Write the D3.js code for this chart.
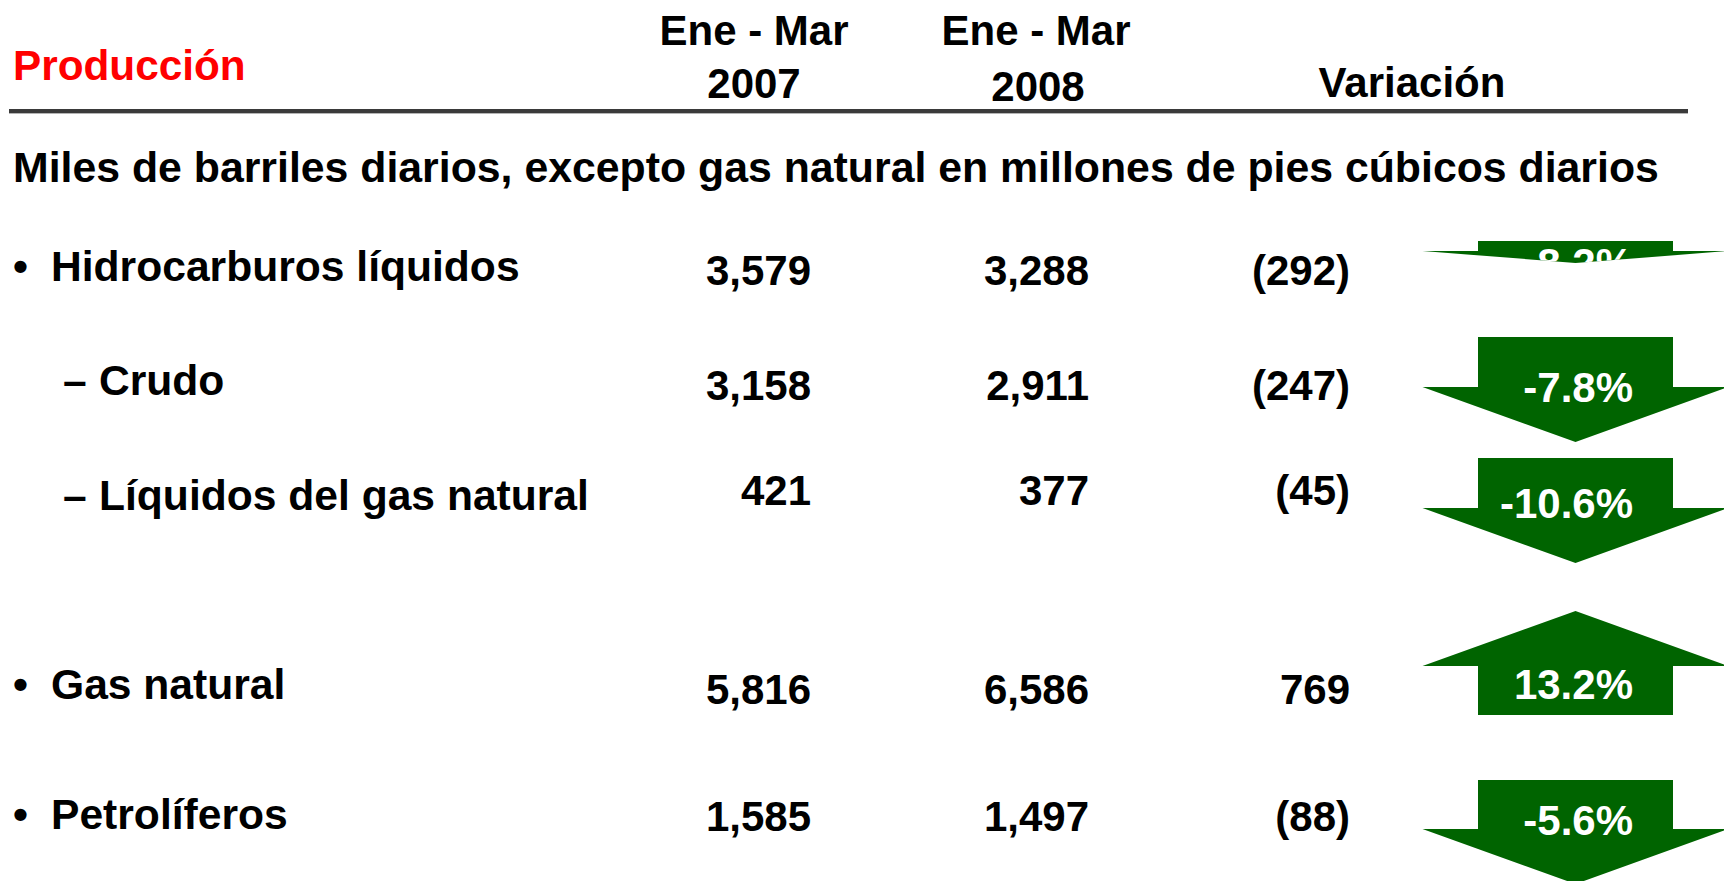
<!DOCTYPE html>
<html>
<head>
<meta charset="utf-8">
<script src="https://cdn.jsdelivr.net/npm/d3@7/dist/d3.min.js"></script>
<style>
  html, body { margin: 0; padding: 0; background: #fff; }
  text { font-family: "Liberation Sans", Arial, sans-serif; font-weight: bold; }
</style>
</head>
<body>
<div id="chart"></div>
<script>
// Table data
const categories = ["Hidrocarburos líquidos", "Crudo", "Líquidos del gas natural", "Gas natural", "Petrolíferos"];
const markers = ["•", "–", "–", "•", "•"];
const values2007 = [3579, 3158, 421, 5816, 1585];
const values2008 = [3288, 2911, 377, 6586, 1497];
const variation = [-292, -247, -45, 769, -88];
const variationPct = [-8.2, -7.8, -10.6, 13.2, -5.6];
const periodHeaders = [["Ene - Mar", "2007"], ["Ene - Mar", "2008"]];
const variationHeader = "Variación";
const title = "Producción";
const subtitle = "Miles de barriles diarios, excepto gas natural en millones de pies cúbicos diarios";

// Layout (positions only)
const width = 1724, height = 881;
const labelY = [281, 395, 510, 699, 829];
const valueY = [285, 400, 505, 704, 831];
const arrowTop = [241, 337, 458, 611, 780];
const arrowBody = [10, 50, 50, 49, 49];
const arrowHead = [12, 55, 55, 55, 55];
const pctY = [278, 402, 518, 699, 835];

const fmt = d3.formatLocale({decimal: ".", thousands: ",", grouping: [3], currency: ["$", ""], minus: "-"});
const fmtValue = fmt.format(",");
const fmtVar = d => d < 0 ? "(" + fmtValue(-d) + ")" : fmtValue(d);
const fmtPct = d => fmt.format(".1f")(d) + "%";

const rows = categories.map((c, i) => ({
    name: c, marker: markers[i], v07: values2007[i], v08: values2008[i],
    dv: variation[i], pct: variationPct[i]
}));

// Scales for row and column placement
const yLabel = d3.scaleOrdinal().domain(categories).range(labelY);
const yValue = d3.scaleOrdinal().domain(categories).range(valueY);
const xCol = d3.scaleOrdinal().domain(["2007", "2008", "var"]).range([811, 1089, 1350]);

const svg = d3.select("#chart")
    .append("svg")
    .attr("width", width)
    .attr("height", height);

// Header
svg.append("text")
    .attr("x", 13).attr("y", 80)
    .attr("font-size", 42.3)
    .attr("fill", "#ff0000")
    .text(title);

const headerX = [754, 1036];
periodHeaders.forEach((h, i) => {
    svg.append("text")
        .attr("x", headerX[i]).attr("y", 45)
        .attr("text-anchor", "middle")
        .attr("font-size", 42)
        .text(h[0]);
    svg.append("text")
        .attr("x", headerX[i] + i * 2).attr("y", 98 + i * 3)
        .attr("text-anchor", "middle")
        .attr("font-size", 42)
        .text(h[1]);
});

svg.append("text")
    .attr("x", 1412).attr("y", 97)
    .attr("text-anchor", "middle")
    .attr("font-size", 42)
    .text(variationHeader);

svg.append("rect")
    .attr("x", 9).attr("y", 109)
    .attr("width", 1679).attr("height", 4)
    .attr("fill", "#3a3a3a");
svg.append("rect")
    .attr("x", 9).attr("y", 113)
    .attr("width", 1679).attr("height", 1)
    .attr("fill", "#b4b4b4");

svg.append("text")
    .attr("x", 13).attr("y", 182)
    .attr("font-size", 42.8)
    .text(subtitle);

// Row labels
const labels = svg.selectAll(".row-label")
    .data(rows)
    .enter()
    .append("g")
    .attr("class", "row-label")
    .attr("transform", d => `translate(0,${yLabel(d.name)})`);

labels.append("text")
    .attr("x", d => d.marker === "•" ? 13 : 63)
    .attr("font-size", 42.6)
    .text(d => d.marker);

labels.append("text")
    .attr("x", d => d.marker === "•" ? 51 : 99)
    .attr("font-size", 42.6)
    .text(d => d.name);

// Values
const cols = [["2007", d => fmtValue(d.v07)], ["2008", d => fmtValue(d.v08)], ["var", d => fmtVar(d.dv)]];
cols.forEach(([key, f]) => {
    svg.selectAll(".val-" + key)
        .data(rows)
        .enter()
        .append("text")
        .attr("class", "val-" + key)
        .attr("x", xCol(key))
        .attr("y", d => yValue(d.name))
        .attr("text-anchor", "end")
        .attr("font-size", 42)
        .text(f);
});

// Arrows
const cx = 1575.5, bodyHalf = 97.5, wingHalf = 153;
function arrowPath(d, i) {
    const top = arrowTop[i], body = arrowBody[i], head = arrowHead[i];
    if (d.pct < 0) {
        const w = top + body, tip = w + head;
        return `M${cx - bodyHalf},${top}L${cx + bodyHalf},${top}L${cx + bodyHalf},${w}L${cx + wingHalf},${w}` +
               `L${cx},${tip}L${cx - wingHalf},${w}L${cx - bodyHalf},${w}Z`;
    }
    const w = top + head, bottom = w + body;
    return `M${cx},${top}L${cx + wingHalf},${w}L${cx + bodyHalf},${w}L${cx + bodyHalf},${bottom}` +
           `L${cx - bodyHalf},${bottom}L${cx - bodyHalf},${w}L${cx - wingHalf},${w}Z`;
}

svg.selectAll(".arrow")
    .data(rows)
    .enter()
    .append("path")
    .attr("class", "arrow")
    .attr("d", arrowPath)
    .attr("fill", "#006400");

// Percent labels: white text only shows over the green shape
svg.append("clipPath")
    .attr("id", "arrow-clip")
    .selectAll("path")
    .data(rows)
    .enter()
    .append("path")
    .attr("d", arrowPath);

svg.append("g")
    .attr("clip-path", "url(#arrow-clip)")
    .selectAll(".pct")
    .data(rows)
    .enter()
    .append("text")
    .attr("class", "pct")
    .attr("x", 1633)
    .attr("y", (d, i) => pctY[i])
    .attr("text-anchor", "end")
    .attr("font-size", 42)
    .attr("fill", "#fff")
    .text(d => fmtPct(d.pct));
</script>
</body>
</html>
